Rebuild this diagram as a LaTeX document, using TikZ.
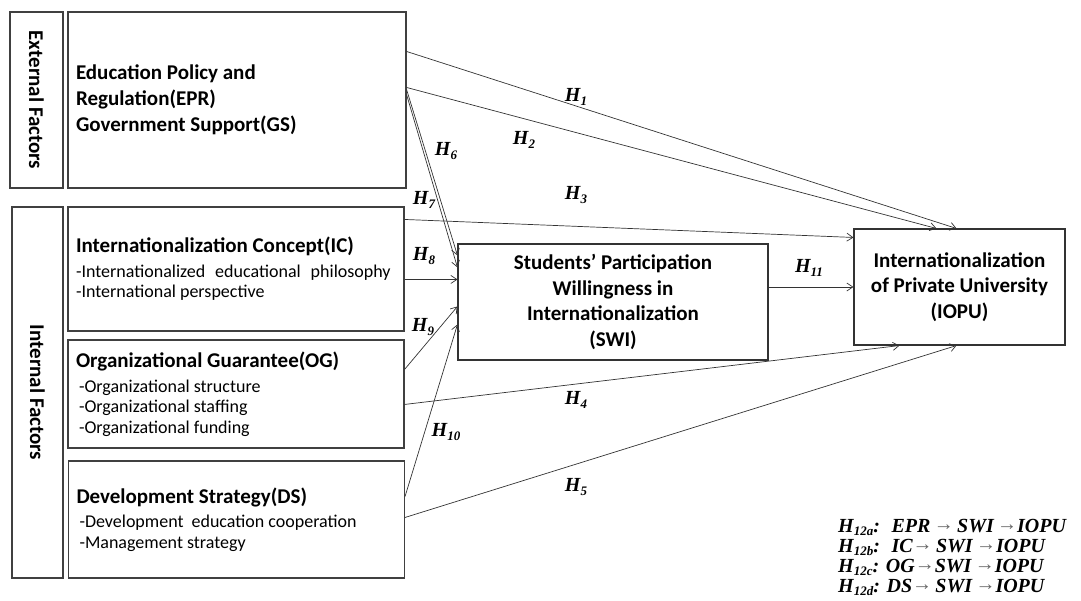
\documentclass[tikz,border=0pt]{standalone}
\usepackage{fontspec}
\setmainfont{Carlito}
\newfontfamily\tnr{Liberation Serif}
\usetikzlibrary{arrows.meta, positioning, calc}

\newcommand{\headfont}{\fontsize{21}{26}\selectfont\bfseries}
\newcommand{\itemfont}{\fontsize{18}{20.5}\selectfont}
\newcommand{\hyp}[1]{{\tnr\bfseries\itshape H\raisebox{-3.5pt}{\fontsize{13}{13}\selectfont #1}}}
\newcommand{\arw}{{\color{black!60}\mdseries\upshape\fontsize{20}{20}\selectfont\raisebox{1.5pt}{→}}}

\begin{document}
\begin{tikzpicture}[x=1pt, y=-1pt,
    box/.style={rectangle, draw=black!75, line width=1.1pt, align=flush left, inner xsep=8pt, inner ysep=0pt, minimum width=336pt, text width=320pt, font=\itemfont},
    sidebox/.style={rectangle, draw=black!75, line width=1.1pt, inner sep=0pt},
    cbox/.style={rectangle, draw=black!80, line width=1.1pt, align=center, inner sep=0pt, font=\fontsize{21}{25.5}\selectfont\bfseries},
    arrow/.style={-{Straight Barb[length=6pt, width=8pt]}, line width=0.7pt, draw=black!80},
    lbl/.style={font=\fontsize{20}{20}\selectfont, inner sep=0pt}
]
\useasboundingbox (0,0) rectangle (1081,600);

% left column
\node[sidebox, minimum width=53pt, minimum height=176pt] (ext) at (36.5,100) {};
\node[rotate=-90, font=\headfont] (extlbl) at (ext.center) {External Factors};
\node[box, minimum width=338pt, minimum height=176pt, text width=322pt, font=\headfont] (epr) at (237,100) {Education Policy and\\Regulation(EPR)\\Government Support(GS)};

\node[sidebox, minimum width=51pt, minimum height=371pt] (intf) at (37.5,392.5) {};
\node[rotate=-90, font=\headfont] (intlbl) at (intf.center) {Internal Factors};

\node[box, minimum height=124pt] (ic) at (236,269) {{\headfont Internationalization Concept(IC)}\\[4pt]
  -Internationalized\hspace{10pt}educational\hspace{10pt}philosophy\\-International perspective};
\node[box, minimum height=108pt] (og) at (236,394) {{\headfont Organizational Guarantee(OG)}\\[4pt]
  \,-Organizational structure\\\,-Organizational staffing\\\,-Organizational funding};
\node[box, minimum height=117pt] (ds) at (236.5,519.5) {{\headfont Development Strategy(DS)}\\[4pt]
  \,-Development\hspace{8pt}education cooperation\\\,-Management strategy};

% mediator and outcome
\node[cbox, minimum width=310pt, minimum height=116pt] (swi) at (613,302) {Students' Participation\\Willingness in\\Internationalization\\(SWI)};
\node[cbox, minimum width=211pt, minimum height=116pt] (iopu) at (959.5,287) {Internationalization\\of Private University\\(IOPU)};

% paths
\draw[arrow] ($(epr.north east)+(0,40)$) -- ($(iopu.north west)+(103,0)$);
\draw[arrow] ($(epr.north east)+(0,76)$) -- ($(iopu.north west)+(83,0)$);
\draw[arrow] ($(epr.north east)+(0,78)$) -- ($(swi.north west)+(0,12)$);
\draw[arrow] ($(epr.north east)+(0,83)$) -- ($(swi.north west)+(0,24)$);
\draw[arrow] ($(ic.north east)+(0,13)$) -- ($(iopu.north west)+(0,9)$);
\draw[arrow] ($(ic.north east)+(0,73)$) -- ($(swi.north west)+(0,36)$);
\draw[arrow] ($(og.north east)+(0,30)$) -- ($(swi.north west)+(0,63)$);
\draw[arrow] ($(og.north east)+(0,65)$) -- ($(iopu.south west)+(46,0)$);
\draw[arrow] ($(ds.north east)+(0,36)$) -- ($(swi.north west)+(0,81)$);
\draw[arrow] ($(ds.north east)+(0,57)$) -- ($(iopu.south west)+(103,0)$);
\draw[arrow] (swi.east |- iopu.west) -- (iopu.west);

% hypothesis labels
\node[lbl] (h1) at (576,97) {\hyp{1}};
\node[lbl] (h2) at (524,140) {\hyp{2}};
\node[lbl] (h3) at (576,195) {\hyp{3}};
\node[lbl] (h4) at (576,400) {\hyp{4}};
\node[lbl] (h5) at (576,487) {\hyp{5}};
\node[lbl] (h6) at (446,151) {\hyp{6}};
\node[lbl] (h7) at (424,200) {\hyp{7}};
\node[lbl] (h8) at (424,256) {\hyp{8}};
\node[lbl] (h9) at (423,327) {\hyp{9}};
\node[lbl] (h10) at (446,432) {\hyp{10}};
\node[lbl] (h11) at (809,268) {\hyp{11}};

% mediation hypotheses
\node[anchor=north west, align=flush left, inner sep=0pt, font=\tnr\bfseries\itshape\fontsize{20}{20}\selectfont] (legend) at (838,519)
  {\hyp{12a}: ~EPR\,\arw\,SWI\,\arw IOPU\\
   \hyp{12b}: ~IC\arw\,SWI\,\arw IOPU\\
   \hyp{12c}: OG\arw SWI\,\arw IOPU\\
   \hyp{12d}: DS\arw\,SWI\,\arw IOPU};
\end{tikzpicture}
\end{document}
